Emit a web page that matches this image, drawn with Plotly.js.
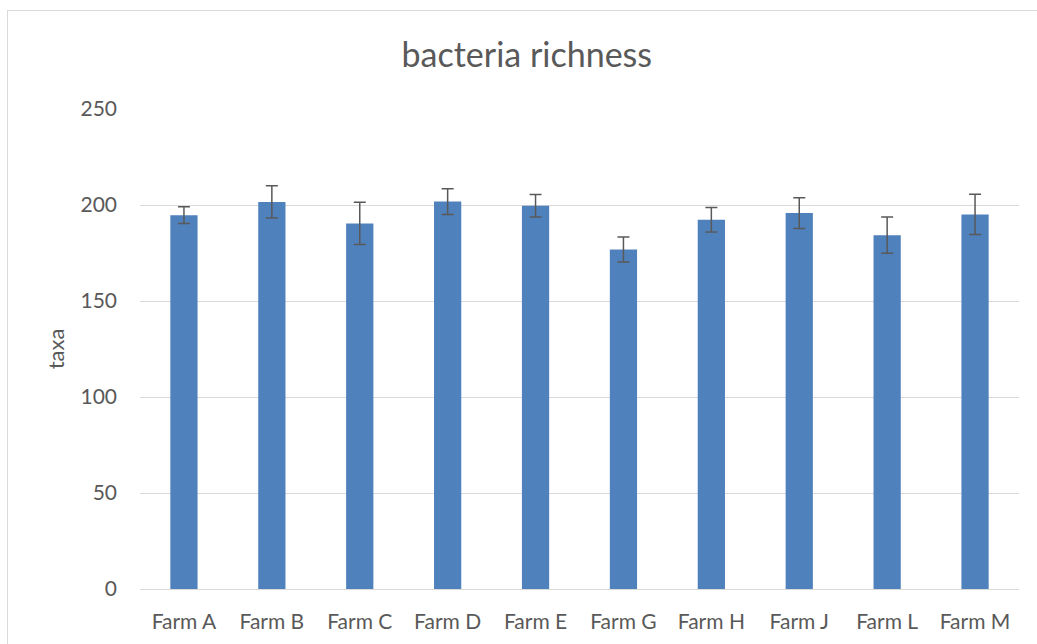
<!DOCTYPE html>
<html>
<head>
<meta charset="utf-8">
<script src="https://cdn.plot.ly/plotly-3.0.1.min.js"></script>
<style>
html,body{margin:0;padding:0;background:#fff;}
#chart{width:1037px;height:644px;}
#frame{position:absolute;left:7px;top:10px;width:1040px;height:650px;border:1px solid #d9d9d9;pointer-events:none;}
</style>
</head>
<body>
<div id="chart"></div>
<div id="frame"></div>
<script>
const farms = ["Farm A","Farm B","Farm C","Farm D","Farm E","Farm G","Farm H","Farm J","Farm L","Farm M"];
const richness = [194.7, 201.6, 190.4, 201.8, 199.6, 176.8, 192.3, 195.8, 184.3, 195.1];
const errors = [4.4, 8.4, 11.0, 6.7, 5.9, 6.5, 6.4, 8.0, 9.4, 10.5];
const yTicks = [0, 50, 100, 150, 200, 250];

const font = "Lato, 'Open Sans', sans-serif";
Plotly.newPlot('chart', [{
  type: 'bar',
  x: farms,
  y: richness,
  marker: {color: '#4f81bd'},
  error_y: {type: 'data', array: errors, visible: true, color: '#595959', thickness: 1.5, width: 6},
  hoverinfo: 'x+y'
}], {
  width: 1037, height: 644,
  margin: {l: 140, r: 18, t: 109, b: 55},
  paper_bgcolor: '#fff', plot_bgcolor: '#fff',
  bargap: 0.69,
  showlegend: false,
  title: {text: 'bacteria richness', x: 0.508, xanchor: 'center', y: 0.914, yanchor: 'middle',
          font: {family: font, size: 34, color: '#595959'}},
  xaxis: {
    tickfont: {family: font, size: 21, color: '#595959'},
    showline: true, linecolor: '#d9d9d9', linewidth: 1, ticks: '', ticklen: 0,
    ticklabelstandoff: 14
  },
  yaxis: {
    range: [0, 250], tickvals: yTicks, ticktext: yTicks.map(String),
    showgrid: true, gridcolor: '#d9d9d9', gridwidth: 1,
    zeroline: false, ticks: '', ticklabelstandoff: 22,
    tickfont: {family: font, size: 21, color: '#595959'},
    title: {text: 'taxa', font: {family: font, size: 22, color: '#595959'}, standoff: 9}
  }
}, {displayModeBar: false, staticPlot: true});
</script>
</body>
</html>
